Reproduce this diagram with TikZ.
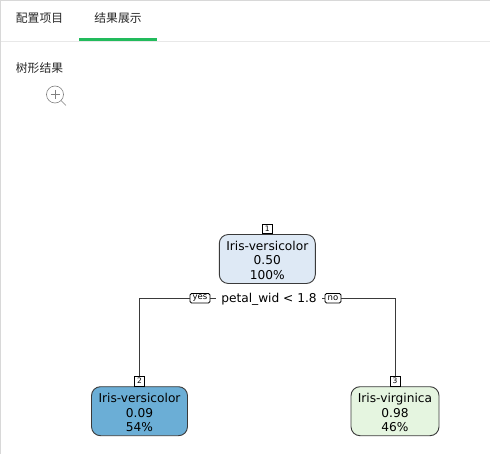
\documentclass[tikz,border=0pt]{standalone}
\usepackage{fontspec}
\setmainfont{DejaVu Sans}
\newfontfamily\cjk{Noto Sans CJK SC}
\usetikzlibrary{calc,positioning}
\definecolor{TabGreen}{HTML}{22BB5C}
\definecolor{FrameGray}{HTML}{D8D8D8}
\definecolor{RuleGray}{HTML}{E8E8E8}
\definecolor{TextDark}{HTML}{262626}
\definecolor{RootBG}{HTML}{DEE9F5}
\definecolor{LeftBG}{HTML}{6BAED6}
\definecolor{RightBG}{HTML}{E5F5E0}
\definecolor{BoxLine}{HTML}{3A3A3A}
\newcommand{\treetext}[3]{\rule{0pt}{12pt}#1\\#2\\#3}
\tikzset{
  tabtext/.style={font=\cjk\fontsize{11.8}{14}\selectfont,text=TextDark,inner sep=0pt},
  treebox/.style={draw=BoxLine,line width=0.9pt,rounded corners=9pt,minimum width=96pt,minimum height=49pt,
    inner sep=0pt,align=center,font=\fontsize{12.2}{14.2}\selectfont},
  numtag/.style={draw=black,fill=white,line width=0.7pt,minimum width=10pt,minimum height=9.5pt,inner sep=0pt,
    font=\fontsize{7.5}{8}\selectfont},
  anstag/.style={draw=black,fill=white,line width=0.8pt,rounded corners=1.5pt,minimum height=9.5pt,inner sep=0pt,
    font=\fontsize{8.5}{9}\selectfont},
  edgeline/.style={draw=BoxLine,line width=0.8pt},
}
\begin{document}
\begin{tikzpicture}[x=1pt,y=-1pt]
  \useasboundingbox (0,0) rectangle (490,454);
  % --- page frame and tabs ---
  \fill[FrameGray] (0,0) rectangle (490,1.5);
  \fill[FrameGray] (0,0) rectangle (1.2,454);
  \fill[RuleGray] (1.2,41) rectangle (490,42);
  \fill[TabGreen] (79,38) rectangle (157,41);
  \node[tabtext] (tabconfig) at (39.5,18.5) {配置项目};
  \node[tabtext] (tabresult) at (118,18.5) {结果展示};
  \node[tabtext] (treetitle) at (39.5,68) {树形结果};
  % --- zoom icon ---
  \node[circle,draw=gray,line width=0.6pt,minimum size=17pt,inner sep=0pt] (lens) at (55,94.5) {};
  \coordinate (lensend) at (66,105.5);
  \draw[gray,line width=0.7pt] (lens.south east) -- (lensend);
  \draw[gray,line width=0.6pt] (50.5,94.5) -- (59.5,94.5) (55,90) -- (55,99);
  % --- tree nodes ---
  \node[treebox,fill=RootBG] (root) at (267.3,259) {\treetext{Iris-versicolor}{0.50}{100\%}};
  \node[treebox,fill=LeftBG] (left) at (139.5,411.2) {\treetext{Iris-versicolor}{0.09}{54\%}};
  \node[treebox,fill=RightBG,minimum width=88pt] (right) at (395,411.2) {\treetext{Iris-virginica}{0.98}{46\%}};
  \node[numtag,above=0pt of root] (tagroot) {1};
  \node[numtag,above=0pt of left] (tagleft) {2};
  \node[numtag,above=0pt of right] (tagright) {3};
  % --- split ---
  \node[inner xsep=5pt,inner ysep=1pt,font=\fontsize{12.2}{14}\selectfont] (split) at (269,299) {petal\_wid < 1.8};
  \node[anstag,minimum width=20pt] (yes) at (200,298.3) {yes};
  \node[anstag,minimum width=16pt] (no) at (333,298.3) {no};
  \draw[edgeline] (yes.west) -| (tagleft.north);
  \draw[edgeline] (no.east) -| (tagright.north);
  \draw[edgeline] (yes.east) -- (yes.east -| split.west);
  \draw[edgeline] (no.west) -- (no.west -| split.east);
\end{tikzpicture}
\end{document}
